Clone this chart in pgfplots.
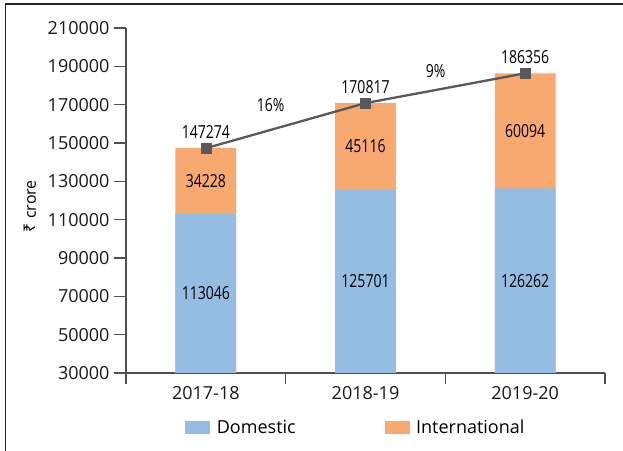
\documentclass[border=0pt]{standalone}
\usepackage{fontspec}
\setmainfont{Open Sans}
\newfontfamily\condfont{Open Sans}[FakeStretch=0.78]
\newfontfamily\rupeefont{Noto Sans}
\usepackage{pgfplots}
\pgfplotsset{compat=1.18}
\definecolor{dombl}{RGB}{149,189,227}
\definecolor{intor}{RGB}{248,169,112}
\definecolor{lgrey}{RGB}{89,89,89}
\definecolor{axgrey}{RGB}{80,80,80}
\begin{document}
\begin{tikzpicture}
\useasboundingbox (0,0) rectangle (623bp,451bp);
\draw[line width=1.6bp, color=black!85] (5.5bp,0) -- (5.5bp,446.8bp) -- (623bp,446.8bp);
\begin{axis}[
  at={(126bp,78bp)}, anchor=south west,
  scale only axis, width=479bp, height=345bp,
  xmin=-0.5, xmax=2.5, ymin=30000, ymax=210000,
  axis lines*=left,
  axis line style={color=axgrey, line width=1.4bp},
  every tick/.style={color=axgrey, line width=1.2bp},
  xtick={0,1,2}, xticklabels={2017-18,2018-19,2019-20},
  major x tick style={draw=none},
  minor xtick={-0.5,0.5,1.5,2.5},
  minor tick length=11bp,
  ytick={30000,50000,70000,90000,110000,130000,150000,170000,190000,210000},
  yticklabels={30000,50000,70000,90000,110000,130000,150000,170000,190000,210000},
  scaled y ticks=false,
  major tick length=12bp,
  tick align=outside,
  tick label style={font=\fontsize{18bp}{21bp}\selectfont, text=black!90},
  yticklabel style={xshift=-1bp},
  xticklabel style={yshift=2bp},
  ylabel={{\rupeefont ₹} crore},
  ylabel style={at={(axis description cs:-0.200,0.484)}, anchor=center, font=\fontsize{16bp}{18bp}\selectfont},
  legend columns=2,
  legend style={at={(axis description cs:0.478,-0.157)}, anchor=center, draw=none, fill=none,
    font=\fontsize{18bp}{21bp}\selectfont,
    nodes={inner sep=0pt},
    /tikz/every odd column/.append style={column sep=7bp},
    /tikz/every even column/.append style={column sep=89bp}},
  legend cell align=left,
]
\addlegendimage{legend image code/.code={\fill[dombl] (0bp,-6bp) rectangle (24bp,6bp);}}
\addlegendentry{Domestic}
\addlegendimage{legend image code/.code={\fill[intor] (0bp,-6bp) rectangle (24bp,6bp);}}
\addlegendentry{International}

\addplot[ybar, bar width=0.38, bar shift=0, fill=intor, draw=none, forget plot]
  coordinates {(0,147274) (1,170817) (2,186356)};
\addplot[ybar, bar width=0.38, bar shift=0, fill=dombl, draw=none, forget plot]
  coordinates {(0,113046) (1,125701) (2,126262)};

\addplot[color=lgrey, line width=2.3bp, mark=square*, mark size=5bp,
  mark options={fill=lgrey, draw=lgrey, line width=0.5bp}, forget plot,
  nodes near coords={\pgfplotspointmeta}, point meta=explicit symbolic,
  nodes near coords style={anchor=south, inner sep=0pt, yshift=9bp, text=black,
    font=\condfont\fontsize{18bp}{21bp}\selectfont}]
  coordinates {(0,147274)[147274] (1,170817)[170817] (2,186356)[186356]};

\addplot[draw=none, mark=none, forget plot,
  nodes near coords={\pgfplotspointmeta}, point meta=explicit symbolic,
  nodes near coords style={anchor=center, inner sep=0pt, text=black,
    font=\condfont\fontsize{18bp}{21bp}\selectfont}]
  coordinates {(0,130160)[34228] (1,148259)[45116] (2,156309)[60094]
    (0,71523)[113046] (1,77850)[125701] (2,78131)[126262]};

\addplot[draw=none, mark=none, forget plot,
  nodes near coords={\pgfplotspointmeta\%}, point meta=explicit symbolic,
  nodes near coords style={anchor=center, inner sep=0pt, text=black,
    font=\condfont\fontsize{18bp}{21bp}\selectfont}]
  coordinates {(0.406,169565)[16] (1.44,187565)[9]};
\end{axis}
\end{tikzpicture}
\end{document}
